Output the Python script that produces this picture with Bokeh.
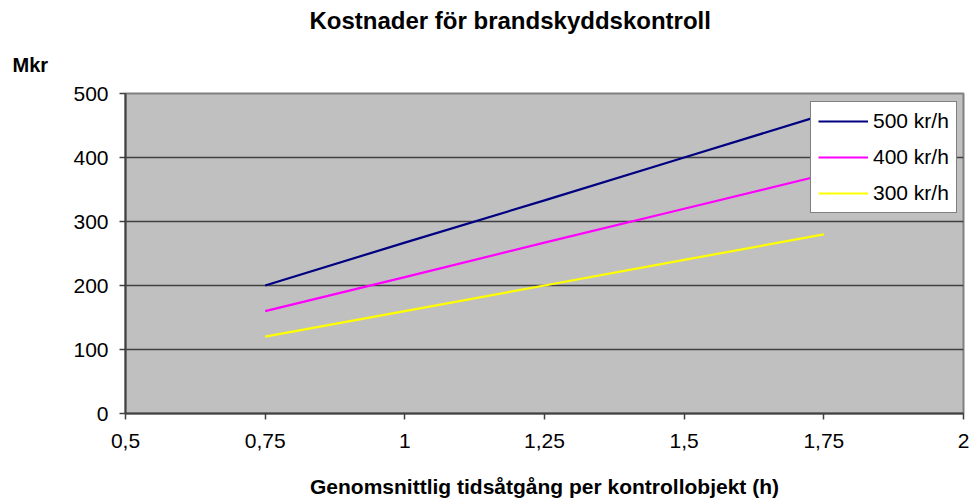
from bokeh.plotting import figure
from bokeh.models import Range1d, FixedTicker, Legend, LegendItem, Title
from bokeh.embed import file_html
from bokeh.resources import INLINE

# ---- data ----
hours = [0.75, 1.0, 1.25, 1.5, 1.75]
cost_500 = [200, 267, 333, 400, 467]
cost_400 = [160, 213, 267, 320, 373]
cost_300 = [120, 160, 200, 240, 280]
series_names = ["500 kr/h", "400 kr/h", "300 kr/h"]
series_colors = ["#000080", "#FF00FF", "#FFFF00"]
x_ticks = [0.5, 0.75, 1.0, 1.25, 1.5, 1.75, 2.0]
x_tick_labels = ["0,5", "0,75", "1", "1,25", "1,5", "1,75", "2"]
y_ticks = [0, 100, 200, 300, 400, 500]
title_text = "Kostnader för brandskyddskontroll"
x_title = "Genomsnittlig tidsåtgång per kontrollobjekt (h)"
y_title = "Mkr"

FONT = "Liberation Sans"

p = figure(width=972, height=502, output_backend="svg", toolbar_location=None,
           x_range=Range1d(0.5, 2.0), y_range=Range1d(0, 500),
           min_border_left=125, min_border_right=9, min_border_top=93,
           min_border_bottom=89)
p.border_fill_color = "white"
p.background_fill_color = "#C0C0C0"
p.outline_line_color = "#808080"
p.outline_line_width = 2

# main title
p.title.text = title_text
p.title.align = "left"
p.title.offset = 184
p.title.text_font = FONT
p.title.text_font_size = "24px"
p.title.text_font_style = "bold"
p.title.text_color = "black"
p.title.standoff = 1

# "Mkr" unit title
p.add_layout(Title(text=y_title, align="left", offset=-113, text_font=FONT,
                   text_font_size="20px", text_font_style="bold",
                   text_color="black", standoff=35), "above")

# axes
for ax in (p.xaxis[0], p.yaxis[0]):
    ax.axis_line_color = "#404040"
    ax.axis_line_width = 2
    ax.major_tick_line_color = "#404040"
    ax.major_tick_line_width = 1.5
    ax.major_tick_out = 6
    ax.major_tick_in = 0
    ax.minor_tick_line_color = None
    ax.major_label_text_font = FONT
    ax.major_label_text_font_size = "21px"
    ax.major_label_text_color = "black"

p.xaxis[0].ticker = FixedTicker(ticks=x_ticks)
p.xaxis[0].major_label_overrides = {t: l for t, l in zip(x_ticks, x_tick_labels)}
p.xaxis[0].major_label_standoff = 14
p.xaxis[0].axis_label = x_title
p.xaxis[0].axis_label_text_font = FONT
p.xaxis[0].axis_label_text_font_size = "21px"
p.xaxis[0].axis_label_text_font_style = "bold"
p.xaxis[0].axis_label_text_color = "black"
p.xaxis[0].axis_label_standoff = 24
p.yaxis[0].ticker = FixedTicker(ticks=y_ticks)
p.yaxis[0].major_label_standoff = 11

p.xgrid.grid_line_color = None
p.ygrid.ticker = FixedTicker(ticks=y_ticks[1:-1])
p.ygrid.grid_line_color = "#404040"
p.ygrid.grid_line_width = 1.5

renderers = []
for ys, c in zip([cost_500, cost_400, cost_300], series_colors):
    r = p.line(hours, ys, line_color=c, line_width=2.2)
    renderers.append(r)

legend = Legend(items=[LegendItem(label=n, renderers=[r]) for n, r in zip(series_names, renderers)],
                location=(685, 200))
legend.label_text_font = FONT
legend.label_text_font_size = "21px"
legend.label_text_color = "black"
legend.glyph_width = 50
legend.glyph_height = 24
legend.label_height = 24
legend.label_standoff = 5
legend.spacing = 12
legend.padding = 7
legend.margin = 0
legend.border_line_color = "black"
legend.border_line_width = 1
legend.background_fill_color = "white"
legend.background_fill_alpha = 1
p.add_layout(legend)

open("out.html", "w").write(file_html(p, INLINE))
